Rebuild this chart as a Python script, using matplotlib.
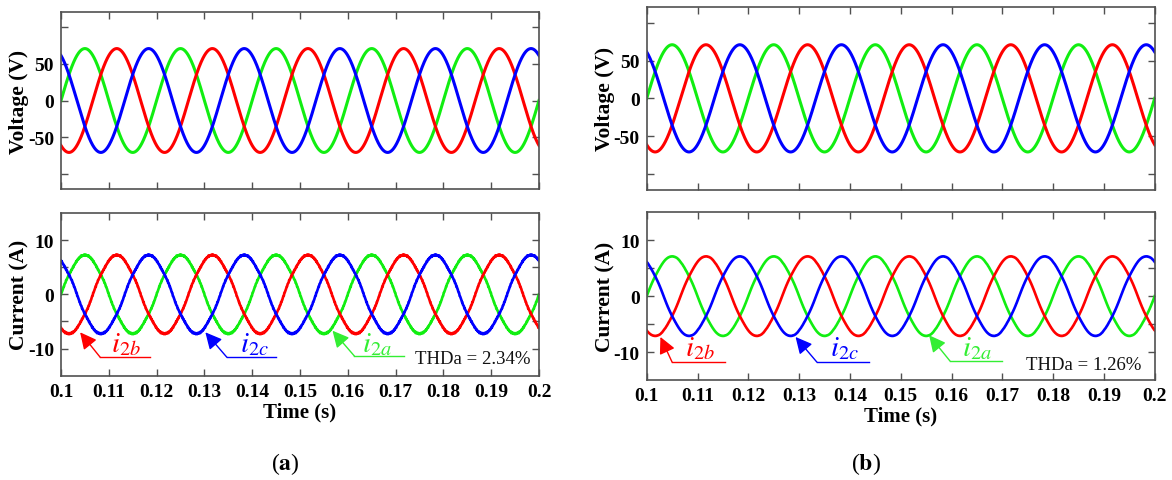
import numpy as np
import matplotlib
matplotlib.use("Agg")
import matplotlib.pyplot as plt
from matplotlib.ticker import FixedLocator, FixedFormatter

# ---------------- data ----------------
freq_hz = 50.0
t_start, t_end = 0.1, 0.2
phase_names = ["a", "b", "c"]
phase_deg = [0.0, -120.0, 120.0]          # phase a (green), b (red), c (blue)
phase_colors = ["#11ee11", "#ff0000", "#0000ff"]

voltage_amp = {"a": 71.0, "b": 71.0}      # V, panels (a) and (b)
current_amp = {"a": 7.2, "b": 7.1}        # A

# harmonic content of the currents (order, amplitude in A) -> THD look
harm_orders_a = [5, 7, 59, 83, 121]
harm_amps_a = [0.10, 0.07, 0.05, 0.05, 0.05]
harm_orders_b = [5, 7, 83]
harm_amps_b = [0.05, 0.04, 0.02]

thd_text = {"a": "THDa = 2.34%", "b": "THDa = 1.26%"}

x_ticks = [0.1, 0.11, 0.12, 0.13, 0.14, 0.15, 0.16, 0.17, 0.18, 0.19, 0.2]
x_tick_labels = ["0.1", "0.11", "0.12", "0.13", "0.14", "0.15", "0.16",
                 "0.17", "0.18", "0.19", "0.2"]
v_ticks = [-100, -50, 0, 50, 100]
v_tick_labels = ["", "-50", "0", "50", ""]
i_ticks = [-10, -5, 0, 5, 10]
i_tick_labels = ["-10", "", "0", "", "10"]

# ---------------- style ----------------
plt.rcParams["mathtext.fontset"] = "stix"
SERIF = ["Liberation Serif", "DejaVu Serif"]
SPINE = "#505050"

W, H = 1172, 481
fig = plt.figure(figsize=(W / 100, H / 100), dpi=100)


def box(l, t, r, b):
    return [l / W, 1 - b / H, (r - l) / W, (b - t) / H]


layout = {
    "a": {"v": box(61, 13, 539, 190), "i": box(61, 214, 539, 376.7), "lab_x": 285},
    "b": {"v": box(646.7, 8, 1154.7, 190.7), "i": box(646.7, 213.3, 1154.7, 381), "lab_x": 866},
}

t = np.linspace(t_start, t_end, 6001)
w = 2 * np.pi * freq_hz


def style_axes(ax, yt, ytl, ylim, ylabel, show_x):
    ax.set_xlim(t_start, t_end)
    ax.set_ylim(*ylim)
    ax.xaxis.set_major_locator(FixedLocator(x_ticks))
    ax.yaxis.set_major_locator(FixedLocator(yt))
    ax.yaxis.set_major_formatter(FixedFormatter(ytl))
    if show_x:
        ax.xaxis.set_major_formatter(FixedFormatter(x_tick_labels))
    else:
        ax.xaxis.set_major_formatter(FixedFormatter([""] * len(x_ticks)))
    ax.tick_params(direction="in", length=5, width=1, color=SPINE,
                   top=True, right=True, labelsize=14, pad=5)
    for lab in ax.get_xticklabels() + ax.get_yticklabels():
        lab.set_fontfamily(SERIF)
        lab.set_fontweight("bold")
    for s in ax.spines.values():
        s.set_color(SPINE)
        s.set_linewidth(1.2)
    ax.set_ylabel(ylabel, fontsize=15.5, fontweight="bold", family=SERIF, labelpad=-1)


for panel in ["a", "b"]:
    L = layout[panel]
    axv = fig.add_axes(L["v"])
    axi = fig.add_axes(L["i"])
    orders = harm_orders_a if panel == "a" else harm_orders_b
    amps = harm_amps_a if panel == "a" else harm_amps_b
    for name, ph, col in zip(phase_names, phase_deg, phase_colors):
        phi = np.deg2rad(ph)
        v = voltage_amp[panel] * np.sin(w * t + phi)
        axv.plot(t, v, color=col, lw=2.2)
        cur = current_amp[panel] * np.sin(w * t + phi)
        for h, a in zip(orders, amps):
            cur = cur + a * np.sin(h * (w * t + phi))
        axi.plot(t, cur, color=col, lw=1.9)

    style_axes(axv, v_ticks, v_tick_labels, (-121, 121), "Voltage (V)", False)
    style_axes(axi, i_ticks, i_tick_labels, (-15, 15), "Current (A)", True)
    axi.set_xlabel("Time (s)", fontsize=15, fontweight="bold", family=SERIF, labelpad=1)

    # annotations: (tip, knee, end of horizontal line, text position, label, colour)
    if panel == "a":
        ann = [((0.1040, -7.0), (0.1082, -11.6), (0.1187, -11.6), (0.1135, -9.0), r"$i_{2b}$", "#ff0000"),
               ((0.1302, -7.0), (0.1347, -11.6), (0.1449, -11.6), (0.1405, -9.0), r"$i_{2c}$", "#0000ff"),
               ((0.1568, -6.7), (0.1614, -11.4), (0.1718, -11.4), (0.1662, -9.0), r"$i_{2a}$", "#33ee33")]
        thd_pos = (0.1862, -11.9)
    else:
        ann = [((0.1027, -7.3), (0.1050, -11.8), (0.1154, -11.8), (0.1105, -9.2), r"$i_{2b}$", "#ff0000"),
               ((0.1293, -7.3), (0.1335, -11.8), (0.1437, -11.8), (0.1390, -9.2), r"$i_{2c}$", "#0000ff"),
               ((0.1556, -7.0), (0.1597, -11.6), (0.1700, -11.6), (0.1650, -9.2), r"$i_{2a}$", "#33ee33")]
        thd_pos = (0.1860, -12.2)
    for tip, knee, end, tp, lab, col in ann:
        axi.plot([knee[0], end[0]], [knee[1], end[1]], color=col, lw=1.0)
        axi.annotate("", xy=tip, xytext=knee,
                     arrowprops=dict(arrowstyle="-|>,head_length=1.0,head_width=0.5",
                                     color=col, lw=1.0, shrinkA=0, shrinkB=0))
        axi.text(tp[0], tp[1], lab, color=col, fontsize=21, ha="center", va="center")
    axi.text(thd_pos[0], thd_pos[1], thd_text[panel], fontsize=13.5, family=SERIF,
             ha="center", va="center", color="#111111")

    fig.text(L["lab_x"] / W, 1 - 464 / H, r"($\mathbf{" + panel + r"}$)",
             fontsize=17, family=SERIF, ha="center", va="center")

fig.savefig("out.png", dpi=100)
